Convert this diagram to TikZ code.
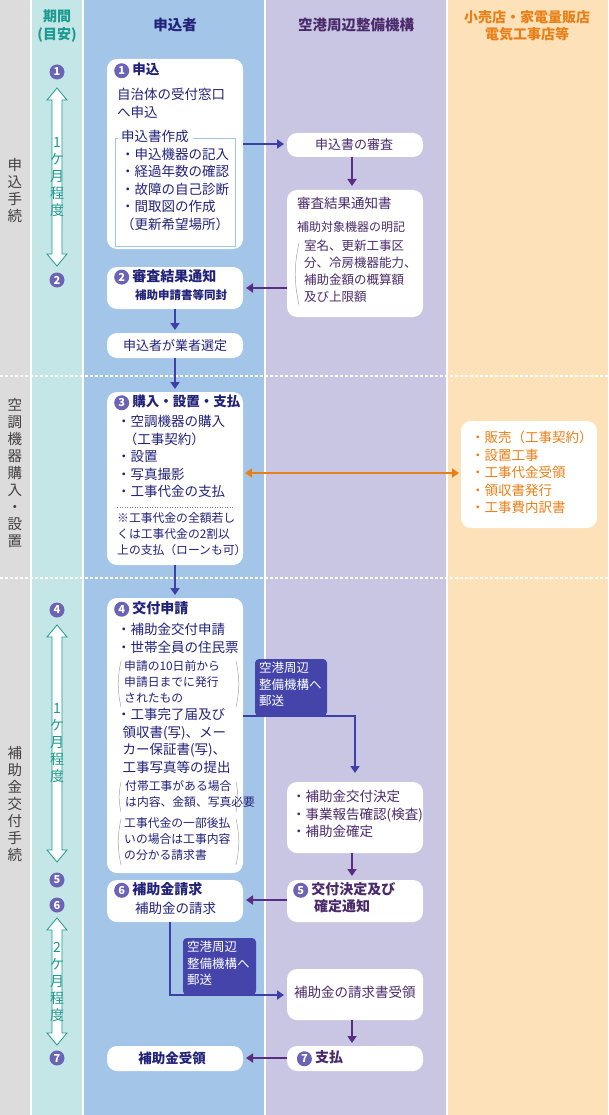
\documentclass[tikz,border=0pt]{standalone}
\usepackage{fontspec}
\setmainfont{Noto Sans CJK JP}
\usetikzlibrary{arrows.meta}
\definecolor{cgray}{HTML}{DCDCDC}
\definecolor{cteal}{HTML}{C5E6E6}
\definecolor{cblue}{HTML}{A3C5E8}
\definecolor{clav}{HTML}{C8C6E2}
\definecolor{corg}{HTML}{FDE1B8}
\definecolor{navy}{HTML}{22227A}
\definecolor{arrn}{HTML}{3F3FA8}
\definecolor{arrp}{HTML}{5A2D82}
\definecolor{ptext}{HTML}{4A2A6A}
\definecolor{tealt}{HTML}{1A9A90}
\definecolor{orgt}{HTML}{E8801A}
\definecolor{cnumc}{HTML}{6B63B5}
\definecolor{lbox}{HTML}{4444AA}
\newcommand{\cn}[1]{\tikz[baseline=(c.base)]\node[circle,fill=cnumc,inner sep=0pt,minimum size=15pt,text=white,font=\fontsize{11}{11}\selectfont\bfseries] (c) {#1};}
\tikzset{
 wbox/.style={fill=white,rounded corners=10pt,draw=none},
 txt/.style={anchor=north west,align=left,inner sep=0pt,font=\fontsize{13.5}{17.5}\selectfont,text=navy},
 ptxt/.style={txt,text=ptext},
 small/.style={txt,font=\fontsize{11.8}{16}\selectfont},
 na/.style={draw=arrn,line width=2pt,-{Triangle[length=7pt,width=9pt]}},
 pa/.style={draw=arrp,line width=2pt,-{Triangle[length=7pt,width=9pt]}},
 brk/.style={draw=gray!70,line width=0.5pt},
 darr/.style={draw=tealt,fill=white,line width=0.8pt},
}
\begin{document}
\begin{tikzpicture}[x=1pt,y=-1pt]
\useasboundingbox (0,0) rectangle (608,1115);
\fill[white] (0,0) rectangle (608,1115);
\fill[cgray] (0,0) rectangle (30,1115);
\fill[cteal] (32,0) rectangle (82,1115);
\fill[cblue] (84,0) rectangle (264,1115);
\fill[clav] (266,0) rectangle (446,1115);
\fill[corg] (448,0) rectangle (608,1115);
\draw[white,line width=1.5pt,dash pattern=on 3pt off 2pt] (0,376)--(608,376) (0,578)--(608,578);
% headers
\node[font=\fontsize{14}{18}\selectfont\bfseries,text=tealt,align=center] (h0) at (57,26) {期間\\(目安)};
\node[font=\fontsize{14.5}{18}\selectfont\bfseries,text=navy] (h1) at (175,25) {申込者};
\node[font=\fontsize{14.5}{18}\selectfont\bfseries,text=ptext] (h2) at (356,25) {空港周辺整備機構};
\node[font=\fontsize{14}{17}\selectfont\bfseries,text=orgt,align=center] (h3) at (527,26) {小売店・家電量販店\\電気工事店等};
% left labels
\node[font=\fontsize{14.5}{17}\selectfont,text=black!75,align=center] (l1) at (15,190) {申\\込\\手\\続};
\node[font=\fontsize{14.5}{17}\selectfont,text=black!75,align=center] (l2) at (15,473) {空\\調\\機\\器\\購\\入\\・\\設\\置};
\node[font=\fontsize{14.5}{17}\selectfont,text=black!75,align=center] (l3) at (15,804) {補\\助\\金\\交\\付\\手\\続};
% period column
\foreach \n/\y in {1/72,2/280,4/610,5/880,6/905,7/1058} \node[inner sep=0pt] (p\n) at (57,\y) {\cn{\n}};
\foreach \a/\b/\t [count=\i] in {88/266/{1\\ケ\\月\\程\\度},625/862/{1\\ケ\\月\\程\\度},918/1045/{2\\ケ\\月\\程\\度}}{
 \draw[darr] (57,\a)--(67,\a+12)--(62,\a+12)--(62,\b-12)--(67,\b-12)--(57,\b)--(47,\b-12)--(52,\b-12)--(52,\a+12)--(47,\a+12)--cycle;
 \node[font=\fontsize{14}{17}\selectfont,text=tealt,align=center] (dt\i) at (57,{(\a+\b)/2}) {\t};
}
% applicant boxes
\fill[wbox] (107,59) rectangle (243,249);
\node[txt,font=\fontsize{13.5}{17}\selectfont\bfseries] (b1t) at (114,63) {\cn{1}\ 申込};
\node[txt] (b1a) at (117,88) {自治体の受付窓口\\へ申込};
\draw[draw=cblue,line width=0.7pt] (118,138)--(115,138)--(115,246)--(235,246)--(235,138)--(193,138);
\node[txt] (b1b) at (121,130) {申込書作成\\・申込機器の記入\\・経過年数の確認\\・故障の自己診断\\・間取図の作成\\（更新希望場所）};
\fill[wbox] (107,267) rectangle (243,309);
\node[txt,font=\fontsize{14}{17}\selectfont\bfseries] (b2t) at (114,269) {\cn{2}\ 審査結果通知};
\node[txt,font=\fontsize{11.5}{14}\selectfont\bfseries] (b2s) at (135,289) {補助申請書等同封};
\fill[wbox] (107,333) rectangle (243,358);
\node[text=navy,font=\fontsize{13}{14}\selectfont] (b3) at (175,345.5) {申込者が業者選定};
\fill[wbox] (107,392) rectangle (243,565);
\node[txt,font=\fontsize{13.5}{17}\selectfont\bfseries] (b4t) at (114,395) {\cn{3}\ 購入・設置・支払};
\node[txt] (b4a) at (117,415) {・空調機器の購入\\\hspace{0.5em}（工事契約）\\・設置\\・写真撮影\\・工事代金の支払};
\draw[navy!60,dash pattern=on 1pt off 1.5pt] (117,507)--(233,507);
\node[small] (b4n) at (117,512) {※工事代金の全額若し\\くは工事代金の2割以\\上の支払（ローンも可）};
\fill[wbox] (107,598) rectangle (243,873);
\node[txt,font=\fontsize{14}{17}\selectfont\bfseries] (b5t) at (114,601) {\cn{4}\ 交付申請};
\node[txt] (b5a) at (117,623) {・補助金交付申請\\・世帯全員の住民票};
\node[small] (b5b) at (124,660) {申請の10日前から\\申請日までに発行\\されたもの};
\node[txt] (b5c) at (117,708) {・工事完了届及び\\\hspace{0.4em}領収書(写)、メー\\\hspace{0.4em}カー保証書(写)、\\\hspace{0.4em}工事写真等の提出};
\node[small] (b5d) at (125,780) {付帯工事がある場合\\は内容、金額、写真必要};
\node[small] (b5e) at (124,817) {工事代金の一部後払\\いの場合は工事内容\\の分かる請求書};
\foreach \a/\b in {661/707,782/812,819/865}{
 \draw[brk] (121,\a) to[bend right=12] (121,\b);
 \draw[brk] (236,\a) to[bend left=12] (236,\b);
}
\fill[wbox] (107,880) rectangle (243,922);
\node[txt,font=\fontsize{14}{17}\selectfont\bfseries] (b6t) at (114,882) {\cn{6}\ 補助金請求};
\node[txt] (b6s) at (135,902) {補助金の請求};
\fill[wbox] (107,1046) rectangle (243,1071);
\node[text=navy,font=\fontsize{13.5}{14}\selectfont\bfseries] (b7) at (172,1058.5) {補助金受領};
% organization boxes
\fill[wbox] (287,133) rectangle (423,157);
\node[text=ptext,font=\fontsize{13}{14}\selectfont] (r1) at (354,145) {申込書の審査};
\fill[wbox] (287,190) rectangle (423,317);
\node[ptxt] (r2t) at (297,197) {審査結果通知書};
\node[ptxt,font=\fontsize{12}{15}\selectfont] (r2a) at (297,221) {補助対象機器の明記};
\node[ptxt,font=\fontsize{12.5}{17}\selectfont] (r2b) at (304,240) {室名、更新工事区\\分、冷房機器能力、\\補助金額の概算額\\及び上限額};
\draw[brk] (299,243) to[bend right=12] (299,305);
\fill[wbox] (287,782) rectangle (423,853);
\node[ptxt] (r3) at (292,790) {・補助金交付決定\\・事業報告確認(検査)\\・補助金確定};
\fill[wbox] (287,880) rectangle (423,922);
\node[ptxt,font=\fontsize{14}{17}\selectfont\bfseries] (r4) at (293,882) {\cn{5}\ 交付決定及び\\\hspace{21pt}確定通知};
\fill[wbox] (287,969) rectangle (423,1020);
\node[ptxt] (r5) at (294,986) {補助金の請求書受領};
\fill[wbox] (287,1046) rectangle (423,1071);
\node[text=ptext,font=\fontsize{14}{14}\selectfont\bfseries] (r6) at (320,1058.5) {\cn{7}\ 支払};
% retailer
\fill[wbox] (461,421) rectangle (597,528);
\node[txt,text=orgt] (o1) at (471,431) {・販売（工事契約）\\・設置工事\\・工事代金受領\\・領収書発行\\・工事費内訳書};
% arrows
\draw[na] (243,144)--(284,144);
\draw[pa] (352,157)--(352,186);
\draw[pa] (287,288)--(246,288);
\draw[na] (175,309)--(175,330);
\draw[na] (175,358)--(175,389);
\draw[draw=orgt,line width=2pt,{Triangle[length=7pt,width=9pt]}-{Triangle[length=7pt,width=9pt]}] (245,473)--(459,473);
\draw[na] (175,565)--(175,595);
\draw[na] (243,716)--(355,716)--(355,773);
\draw[pa] (352,853)--(352,876);
\draw[pa] (287,900)--(246,900);
\draw[na] (170,922)--(170,995)--(284,995);
\draw[pa] (352,1020)--(352,1043);
\draw[pa] (287,1058)--(246,1058);
% mail labels
\fill[lbox,rounded corners=4pt] (255,716)--(255,659)--(327,659)--(327,716)--cycle;
\node[txt,text=white,font=\fontsize{12.5}{16.5}\selectfont] (m1) at (259,662) {空港周辺\\整備機構へ\\郵送};
\fill[lbox,rounded corners=4pt] (183,995)--(183,938)--(256,938)--(256,995)--cycle;
\node[txt,text=white,font=\fontsize{12.5}{16.5}\selectfont] (m2) at (187,941) {空港周辺\\整備機構へ\\郵送};
\end{tikzpicture}
\end{document}
